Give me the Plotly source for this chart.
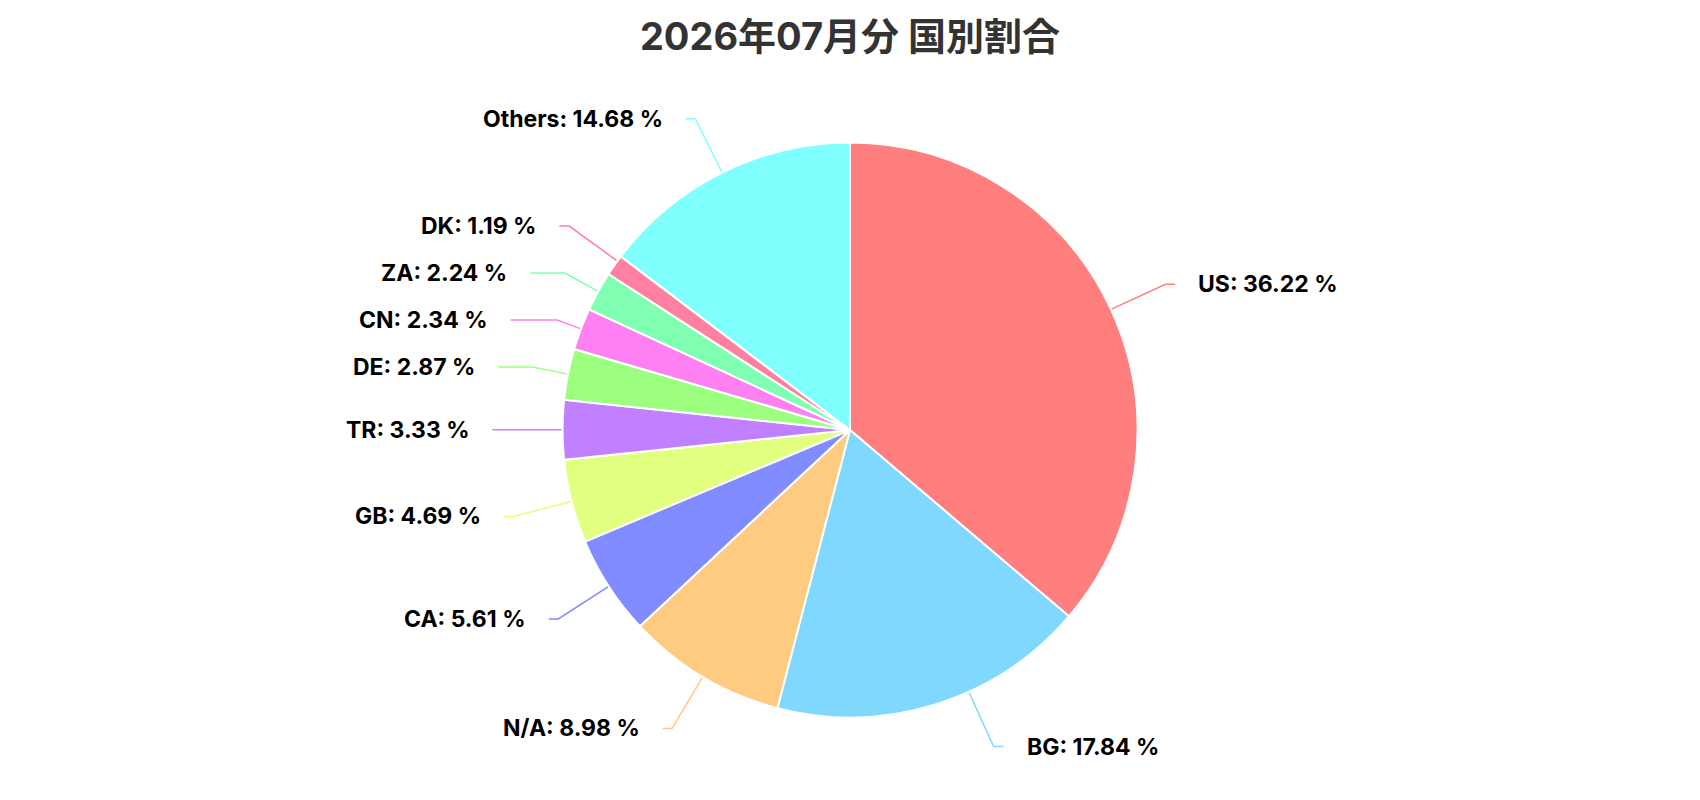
import math
import plotly.graph_objects as go

TITLE = "2026年07月分 国別割合"

countries = ["US", "BG", "N/A", "CA", "GB", "TR", "DE", "CN", "ZA", "DK", "Others"]
shares = [36.22, 17.84, 8.98, 5.61, 4.69, 3.33, 2.87, 2.34, 2.24, 1.19, 14.68]
colors = [
    "#FF7F7F", "#80D8FF", "#FFCB80", "#808CFF", "#E3FF80", "#C080FF",
    "#9CFF80", "#FF80F1", "#80FFB3", "#FF80A0", "#80FFFF",
]

# canvas / pie geometry in px
W, H = 1700, 800
CX, CY, R = 850, 430, 287.5
LINE_LEN, LINE_LEN2 = 60, 10  # radial part / horizontal part of the label line
LABEL_H = 47  # vertical room taken by one label
TEXT_GAP = 21
ELL_A, ELL_B = R + 70, R + 63  # curve the label ends sit on
Y_MIN, Y_MAX = 90, 770


def polar(deg, rr):
    a = math.radians(deg)
    return CX + rr * math.sin(a), CY - rr * math.cos(a)


# slice angles, clockwise from 12 o'clock
total = sum(shares)
items = []
acc = 0.0
for i, v in enumerate(shares):
    a0 = acc / total * 360
    acc += v
    a1 = acc / total * 360
    mid = (a0 + a1) / 2
    side = 1 if math.sin(math.radians(mid)) >= 0 else -1
    items.append(dict(i=i, a0=a0, a1=a1, mid=mid, side=side,
                      y=polar(mid, R + LINE_LEN)[1], clamped=False))


def spread(side_items):
    """push overlapping labels apart, a bit like echarts does"""
    side_items.sort(key=lambda d: d["y"])
    n = len(side_items)
    clusters = []
    last = -1e9
    for d in side_items:
        top = d["y"] - LABEL_H / 2
        if top < last:
            shift = last - top
            d["y"] += shift
            clusters[-1].append((d, shift))
        else:
            clusters.append([(d, 0.0)])
        last = d["y"] + LABEL_H / 2
    for cl in clusters:
        tot = sum(s for _, s in cl)
        for d, _ in cl:
            d["y"] -= tot / n
    for d in side_items:
        lo, hi = Y_MIN + LABEL_H / 2, Y_MAX - LABEL_H / 2
        if d["y"] > hi:
            d["y"], d["clamped"] = hi, True
        elif d["y"] < lo:
            d["y"], d["clamped"] = lo, True


spread([d for d in items if d["side"] < 0])
spread([d for d in items if d["side"] > 0])

fig = go.Figure()

fig.add_trace(go.Pie(
    labels=countries,
    values=shares,
    sort=False,
    direction="clockwise",
    rotation=0,
    marker=dict(colors=colors, line=dict(color="#FFFFFF", width=2)),
    textinfo="none",
    hovertemplate="%{label}: %{value:.2f} %<extra></extra>",
    domain=dict(x=[(CX - R) / W, (CX + R) / W], y=[(H - CY - R) / H, (H - CY + R) / H]),
    showlegend=False,
))

annotations = []
for d in items:
    side, y = d["side"], d["y"]
    dy = y - CY
    end_x = CX + side * ELL_A * math.sqrt(max(0.0, 1 - (dy / ELL_B) ** 2))

    sx, sy = polar(d["mid"], R)
    uy = -math.cos(math.radians(d["mid"]))
    ux = math.sin(math.radians(d["mid"]))
    ok = False
    if not d["clamped"] and abs(uy) > 0.05:
        t = (y - sy) / uy
        ex = sx + t * ux
        if 0 < t < 1.6 * LINE_LEN and side * (end_x - ex) >= 0:
            ok = True
    if not ok:
        # anchor the line on the slice point closest to the elbow
        ex = end_x - side * LINE_LEN2
        ang = math.degrees(math.atan2(ex - CX, -(y - CY))) % 360
        ang = min(max(ang, d["a0"] + 0.5), d["a1"] - 0.5)
        sx, sy = polar(ang, R)

    fig.add_trace(go.Scatter(
        x=[sx, ex, end_x], y=[sy, y, y],
        mode="lines",
        line=dict(color=colors[d["i"]], width=1.5),
        hoverinfo="skip",
        showlegend=False,
    ))
    annotations.append(dict(
        x=end_x + side * TEXT_GAP, y=y, xref="x", yref="y",
        text=f"{countries[d['i']]}: {shares[d['i']]:.2f} %",
        showarrow=False,
        xanchor="left" if side > 0 else "right",
        yanchor="middle",
        font=dict(family="Inter, Roboto, sans-serif", size=23, color="#000000", weight="bold"),
    ))

fig.update_layout(
    width=W,
    height=H,
    margin=dict(l=0, r=0, t=0, b=0),
    paper_bgcolor="white",
    plot_bgcolor="white",
    title=dict(
        text=TITLE, x=0.5, xanchor="center", y=1 - 37 / H, yanchor="middle",
        font=dict(family="Inter, Noto Sans CJK JP, sans-serif", size=38, color="#333333", weight="bold"),
    ),
    xaxis=dict(range=[0, W], visible=False, fixedrange=True),
    yaxis=dict(range=[H, 0], visible=False, fixedrange=True),
    annotations=annotations,
)

fig.write_html(
    "out.html",
    config={"displayModeBar": False},
    post_script="document.body.style.margin='0';document.body.style.overflow='hidden';",
)
